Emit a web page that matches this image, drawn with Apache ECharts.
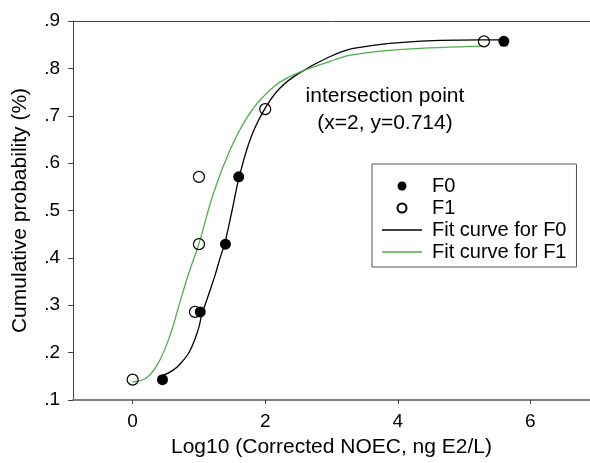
<!DOCTYPE html>
<html>
<head>
<meta charset="utf-8">
<script src="https://cdn.jsdelivr.net/npm/echarts@6/dist/echarts.min.js"></script>
<style>
  html, body { margin: 0; padding: 0; background: #fff; }
  #chart { width: 590px; height: 463px; }
</style>
</head>
<body>
<div id="chart"></div>
<script>
// observed points (cumulative probability)
var f0X = [0.45, 1.02, 1.40, 1.60, 5.60];
var f0Y = [0.143, 0.286, 0.429, 0.571, 0.857];
var f1X = [0.00, 0.94, 1.00, 1.00, 2.00, 5.30];
var f1Y = [0.143, 0.286, 0.429, 0.571, 0.714, 0.857];

// fitted curves
var fitF0X = [0.46, 0.60, 0.71, 0.86, 0.99, 1.04, 1.14, 1.24, 1.32, 1.39, 1.50, 1.61, 1.79, 2.00, 2.22, 2.50, 2.98, 3.33, 4.08, 5.24, 5.60];
var fitF0Y = [0.152, 0.162, 0.175, 0.203, 0.249, 0.278, 0.320, 0.362, 0.400, 0.431, 0.500, 0.572, 0.656, 0.716, 0.758, 0.789, 0.825, 0.842, 0.855, 0.860, 0.860];
var fitF1X = [0.00, 0.21, 0.39, 0.56, 0.71, 0.84, 1.00, 1.22, 1.47, 1.72, 1.97, 2.32, 2.98, 3.33, 4.08, 5.29];
var fitF1Y = [0.138, 0.147, 0.179, 0.235, 0.305, 0.365, 0.430, 0.537, 0.628, 0.695, 0.740, 0.779, 0.815, 0.829, 0.840, 0.847];

var xTicks = [0, 2, 4, 6];
var legendNames = ['F0', 'F1', 'Fit curve for F0', 'Fit curve for F1'];

function zip(xs, ys) {
  return xs.map(function (x, i) { return [x, ys[i]]; });
}

var font = '"Liberation Sans", Arial, sans-serif';
var lineIcon = 'path://M0,0H40V1.3H0Z';

var chart = echarts.init(document.getElementById('chart'));

var option = {
  animation: false,
  grid: { left: 73, top: 21, right: 0, bottom: 62 },
  legend: {
    data: [
      { name: legendNames[0], icon: 'circle' },
      { name: legendNames[1], icon: 'circle' },
      { name: legendNames[2], icon: lineIcon },
      { name: legendNames[3], icon: lineIcon }
    ],
    orient: 'vertical',
    left: 372,
    top: 164,
    itemWidth: 40,
    itemHeight: 9,
    itemGap: 2,
    symbolKeepAspect: true,
    padding: [12, 10, 5, 10],
    borderColor: '#555',
    borderWidth: 1,
    selectedMode: false,
    textStyle: { fontFamily: font, fontSize: 20, color: '#000', lineHeight: 20, padding: [0, 0, 0, 5] }
  },
  xAxis: [{
    type: 'value',
    min: -0.9,
    max: 6.9,
    name: 'Log10 (Corrected NOEC, ng E2/L)',
    nameLocation: 'middle',
    nameGap: 37,
    nameTextStyle: { fontFamily: font, fontSize: 21, color: '#000' },
    splitLine: { show: false },
    axisLine: { lineStyle: { color: '#808080', width: 2 } },
    axisTick: { customValues: xTicks, length: 4, lineStyle: { color: '#444' } },
    axisLabel: { customValues: xTicks, margin: 12, fontFamily: font, fontSize: 19, color: '#000' }
  }, {
    type: 'value',
    position: 'top',
    min: -0.9,
    max: 6.9,
    splitLine: { show: false },
    axisLine: { show: true, lineStyle: { color: '#444', width: 1 } },
    axisTick: { show: false },
    axisLabel: { show: false }
  }],
  yAxis: {
    type: 'value',
    min: 0.1,
    max: 0.9,
    interval: 0.1,
    name: 'Cumulative probability (%)',
    nameLocation: 'middle',
    nameGap: 42,
    nameTextStyle: { fontFamily: font, fontSize: 21, color: '#000' },
    splitLine: { show: false },
    axisLine: { show: true, onZero: false, lineStyle: { color: '#444', width: 1 } },
    axisTick: { show: true, length: 5, lineStyle: { color: '#444' } },
    axisLabel: {
      margin: 13,
      fontFamily: font,
      fontSize: 19,
      color: '#000',
      formatter: function (v) { return v.toFixed(1).replace(/^0/, ''); }
    }
  },
  graphic: [{
    type: 'text',
    x: 385,
    y: 83,
    style: {
      text: 'intersection point\n(x=2, y=0.714)',
      fontFamily: font,
      fontSize: 21,
      lineHeight: 27,
      fill: '#000',
      align: 'center',
      verticalAlign: 'top'
    }
  }],
  series: [
    {
      name: 'Fit curve for F0',
      type: 'line',
      data: zip(fitF0X, fitF0Y),
      smooth: 0.4,
      symbol: 'none',
      lineStyle: { color: '#000', width: 1.3 },
      itemStyle: { color: '#000' },
      z: 2
    },
    {
      name: 'Fit curve for F1',
      type: 'line',
      data: zip(fitF1X, fitF1Y),
      smooth: 0.4,
      symbol: 'none',
      lineStyle: { color: '#4daf4a', width: 1.3 },
      itemStyle: { color: '#4daf4a' },
      z: 2
    },
    {
      name: 'F0',
      type: 'scatter',
      data: zip(f0X, f0Y),
      symbol: 'circle',
      symbolSize: 11,
      itemStyle: { color: '#000', opacity: 1 },
      z: 3
    },
    {
      name: 'F1',
      type: 'scatter',
      data: zip(f1X, f1Y),
      symbol: 'circle',
      symbolSize: 11,
      itemStyle: { color: 'rgba(255,255,255,0)', borderColor: '#000', borderWidth: 1.2, opacity: 1 },
      z: 4
    }
  ]
};

chart.setOption(option);
</script>
</body>
</html>
